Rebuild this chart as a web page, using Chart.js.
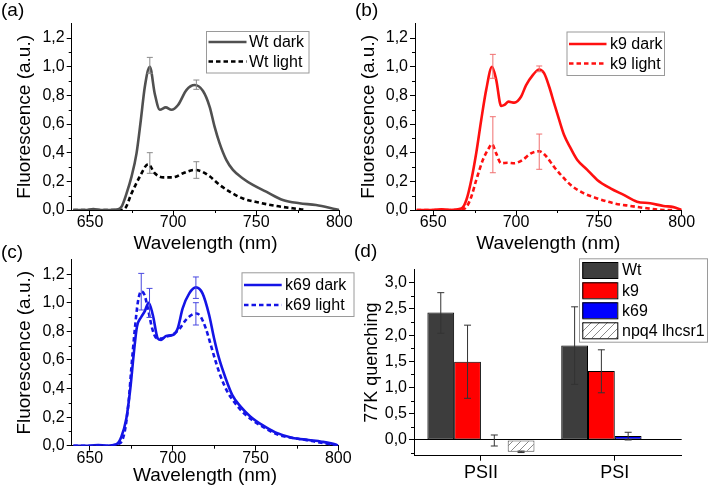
<!DOCTYPE html>
<html><head><meta charset="utf-8">
<script src="https://cdn.jsdelivr.net/npm/chart.js@4.4.1/dist/chart.umd.min.js"></script>
<style>
html,body{margin:0;padding:0;background:#fff;}
body{width:709px;height:491px;position:relative;overflow:hidden;}
canvas{position:absolute;}
</style></head><body>
<canvas id="cA" width="380" height="258" style="left:0px;top:0px"></canvas>
<canvas id="cB" width="355" height="258" style="left:354px;top:0px"></canvas>
<canvas id="cC" width="380" height="251" style="left:0px;top:240px"></canvas>
<canvas id="cD" width="355" height="251" style="left:354px;top:240px"></canvas>
<script>
// ---------- DATA ----------
const specXTicks = [650, 700, 750, 800];
const specXMinor = [675, 725, 775];
const specYTicks = [0, 0.2, 0.4, 0.6, 0.8, 1.0, 1.2];
const specYMinor = [0.1, 0.3, 0.5, 0.7, 0.9, 1.1];

// (a) Wt
const wtDarkNm  = [640, 648, 652, 656, 662, 667, 669, 672, 675, 678, 680.6, 683, 686, 689, 692, 695.6, 699, 703, 708, 713, 718, 722, 725, 728, 732, 736, 742, 748, 756, 766, 776, 786, 798, 800];
const wtDarkVal = [0, 0, 0.006, 0, 0, 0.005, 0.023, 0.116, 0.233, 0.395, 0.628, 0.86, 1.0, 0.81, 0.70, 0.716, 0.70, 0.733, 0.837, 0.872, 0.83, 0.72, 0.58, 0.465, 0.35, 0.28, 0.22, 0.175, 0.128, 0.07, 0.047, 0.035, 0.005, 0];
const wtLightNm  = [640, 660, 668, 671, 675, 680, 685, 689, 694, 700, 706, 713, 717, 722, 728, 734, 742, 752, 762, 772, 780];
const wtLightVal = [0, 0, 0, 0.01, 0.116, 0.233, 0.32, 0.256, 0.228, 0.228, 0.256, 0.28, 0.27, 0.235, 0.175, 0.128, 0.08, 0.051, 0.028, 0.012, 0];
const wtErrNm = [686, 714];
const wtDarkLo = [0.954, 0.842], wtDarkHi = [1.065, 0.907];
const wtLightLo = [0.256, 0.221], wtLightHi = [0.40, 0.337];

// (b) k9
const k9DarkNm  = [640, 650, 655, 660, 667, 670, 673, 676, 679, 682, 685.5, 688, 691, 693, 695.5, 699, 703, 706, 710, 714, 717, 720, 723, 726, 729, 733, 737, 743, 749, 757, 765, 773, 781, 789, 795, 800];
const k9DarkVal = [0, 0, 0.005, 0, 0.01, 0.07, 0.21, 0.40, 0.63, 0.84, 1.0, 0.91, 0.726, 0.733, 0.756, 0.749, 0.79, 0.87, 0.94, 0.98, 0.953, 0.86, 0.744, 0.63, 0.523, 0.43, 0.349, 0.28, 0.21, 0.151, 0.105, 0.058, 0.047, 0.028, 0.02, 0];
const k9LightNm  = [640, 660, 667, 670, 673, 676, 680, 683, 685.5, 688, 691, 695, 699, 704, 709, 714, 718, 723, 728, 733, 741, 749, 759, 769, 779, 789, 795];
const k9LightVal = [0, 0, 0.005, 0.02, 0.093, 0.21, 0.35, 0.42, 0.46, 0.395, 0.326, 0.33, 0.326, 0.35, 0.395, 0.41, 0.377, 0.30, 0.233, 0.174, 0.116, 0.081, 0.047, 0.028, 0.012, 0, 0];
const k9ErrNm = [686, 714];
const k9DarkLo = [0.919, 0.965], k9DarkHi = [1.086, 1.005];
const k9LightLo = [0.26, 0.284], k9LightHi = [0.651, 0.53];

// (c) k69
const k69DarkNm  = [640, 650, 655, 660, 666, 669, 672, 674.4, 676.4, 678.4, 681, 683, 685.5, 688, 691, 693, 696, 700, 703, 706, 710, 714, 718, 722, 725, 728, 732, 736, 741, 747, 754, 762, 772, 782, 790, 799, 800];
const k69DarkVal = [0, 0, 0.005, 0, 0.01, 0.063, 0.19, 0.40, 0.634, 0.832, 0.90, 0.937, 1.0, 0.914, 0.75, 0.739, 0.767, 0.774, 0.82, 0.96, 1.065, 1.107, 1.065, 0.914, 0.75, 0.61, 0.47, 0.354, 0.273, 0.203, 0.145, 0.093, 0.056, 0.04, 0.028, 0.005, 0];
const k69LightNm  = [640, 660, 668, 671, 673.4, 675, 677, 679, 681, 683, 685, 687.6, 690, 693, 696, 700, 704, 708, 712, 714.5, 717, 720, 723, 726, 729, 733, 737, 742, 748, 756, 764, 774, 784, 792, 799];
const k69LightVal = [0, 0, 0.016, 0.098, 0.31, 0.54, 0.80, 1.007, 1.08, 1.054, 0.96, 0.82, 0.755, 0.75, 0.762, 0.778, 0.816, 0.88, 0.918, 0.925, 0.90, 0.82, 0.704, 0.587, 0.483, 0.378, 0.308, 0.238, 0.18, 0.121, 0.075, 0.051, 0.033, 0.016, 0.005];
const k69DarkErrNm = [686, 714], k69DarkLo = [0.897, 1.03], k69DarkHi = [1.10, 1.18];
const k69LightErrNm = [681, 714], k69LightLo = [0.949, 0.844], k69LightHi = [1.205, 1.0];

// (d) 77K quenching
const groups = ['PSII', 'PSI'];
const qWt  = [2.43, 1.80],  qWtLo  = [2.035, 1.06],  qWtHi  = [2.81, 2.54];
const qK9  = [1.49, 1.316], qK9Lo  = [0.795, 0.90],  qK9Hi  = [2.19, 1.72];
const qK69 = [-0.01, 0.076], qK69Lo = [-0.115, 0.0], qK69Hi = [0.095, 0.147];
const qNpq = [-0.225, -0.01], qNpqLo = [-0.24, -0.01], qNpqHi = [-0.212, -0.01];
const qYTicks = [0, 0.5, 1.0, 1.5, 2.0, 2.5, 3.0];
const qYMinor = [-0.25, 0.25, 0.75, 1.25, 1.75, 2.25, 2.75];

// ---------- RENDER ----------
const FONT = '"Liberation Sans", Arial, Helvetica, sans-serif';
Chart.defaults.color = '#000';
Chart.defaults.font.family = FONT;
const comma = v => Number(v).toFixed(1).replace('.', ',');
const pts = (xs, ys) => xs.map((x, i) => ({x: x, y: ys[i]}));

// hatch pattern
const pc = document.createElement('canvas'); pc.width = 8; pc.height = 8;
const pctx = pc.getContext('2d');
pctx.fillStyle = '#fff'; pctx.fillRect(0, 0, 8, 8);
pctx.strokeStyle = '#8a8a8a'; pctx.lineWidth = 1;
pctx.beginPath(); pctx.moveTo(0, 8); pctx.lineTo(8, 0); pctx.moveTo(-2, 2); pctx.lineTo(2, -2); pctx.moveTo(6, 10); pctx.lineTo(10, 6); pctx.stroke();
const hatch = pctx.createPattern(pc, 'repeat');

const overlayCfg = {};
const overlay = {
  id: 'overlay',
  afterDatasetsDraw(chart) {
    const o = overlayCfg[chart.canvas.id]; if (!o) return;
    const ctx = chart.ctx, ca = chart.chartArea, sx = chart.scales.x, sy = chart.scales.y;
    ctx.save();
    ctx.strokeStyle = '#000'; ctx.lineWidth = 1;
    ctx.beginPath();
    (o.minorX || []).forEach(v => { const x = Math.round(sx.getPixelForValue(v)) + 0.5; ctx.moveTo(x, ca.bottom); ctx.lineTo(x, ca.bottom + 3); });
    (o.minorY || []).forEach(v => { const y = Math.round(sy.getPixelForValue(v)) + 0.5; ctx.moveTo(ca.left - 3, y); ctx.lineTo(ca.left, y); });
    ctx.stroke();
    (o.errors || []).forEach(e => {
      ctx.strokeStyle = e.color; ctx.lineWidth = 1;
      e.lo.forEach((lo, i) => {
        let x;
        if (e.meta != null) x = chart.getDatasetMeta(e.meta).data[i].x;
        else x = sx.getPixelForValue(e.nm[i]);
        const y1 = sy.getPixelForValue(lo), y2 = sy.getPixelForValue(e.hi[i]);
        if (Math.abs(y1 - y2) < 0.5) return;
        ctx.beginPath();
        ctx.moveTo(x, y1); ctx.lineTo(x, y2);
        ctx.moveTo(x - e.cap, y1); ctx.lineTo(x + e.cap, y1);
        ctx.moveTo(x - e.cap, y2); ctx.lineTo(x + e.cap, y2);
        ctx.stroke();
      });
    });
    ctx.restore();
  },
  afterDraw(chart) {
    const o = overlayCfg[chart.canvas.id]; if (!o) return;
    const ctx = chart.ctx;
    ctx.save();
    ctx.fillStyle = '#000'; ctx.textBaseline = 'middle'; ctx.textAlign = 'left';
    ctx.font = '19px ' + FONT;
    ctx.fillText(o.panel[0], o.panel[1], o.panel[2]);
    const L = o.legend;
    if (L) {
      ctx.strokeStyle = '#9a9a9a'; ctx.lineWidth = 1;
      ctx.strokeRect(L.box[0] + 0.5, L.box[1] + 0.5, L.box[2], L.box[3]);
      ctx.font = '16px ' + FONT;
      L.items.forEach(it => {
        if (it.swatch) {
          ctx.fillStyle = it.fill; ctx.fillRect(L.sx[0], it.y - 8, L.sx[1] - L.sx[0], 16);
          ctx.strokeStyle = '#000'; ctx.lineWidth = 1; ctx.strokeRect(L.sx[0] + 0.5, it.y - 8 + 0.5, L.sx[1] - L.sx[0], 16);
        } else {
          ctx.strokeStyle = it.color; ctx.lineWidth = 2.5; ctx.setLineDash(it.dash || []);
          ctx.beginPath(); ctx.moveTo(L.sx[0], it.y); ctx.lineTo(L.sx[1], it.y); ctx.stroke();
          ctx.setLineDash([]);
        }
        ctx.fillStyle = '#000'; ctx.fillText(it.text, L.tx, it.y + 1);
      });
    }
    ctx.restore();
  }
};

function spectrum(id, c) {
  overlayCfg[id] = {
    panel: c.panel, minorX: specXMinor, minorY: specYMinor, errors: c.errors, legend: c.legend
  };
  return new Chart(document.getElementById(id), {
    type: 'line',
    data: { datasets: [
      { label: c.names[0], data: pts(c.dark[0], c.dark[1]), borderColor: c.color, borderWidth: 2.6, pointRadius: 0, cubicInterpolationMode: 'monotone', fill: false },
      { label: c.names[1], data: pts(c.light[0], c.light[1]), borderColor: c.lightColor, borderWidth: 2.6, borderDash: [4.5, 3], pointRadius: 0, cubicInterpolationMode: 'monotone', fill: false }
    ]},
    options: {
      responsive: false, animation: false, events: [],
      layout: { padding: c.pad },
      plugins: { legend: { display: false }, tooltip: { enabled: false } },
      scales: {
        x: {
          type: 'linear', min: 639, max: 800,
          afterBuildTicks: s => { s.ticks = specXTicks.map(v => ({value: v})); },
          afterFit: s => { s.height = c.hx; },
          grid: { drawOnChartArea: false, drawTicks: true, tickLength: 5, tickColor: '#000', tickWidth: 1 },
          border: { display: true, color: '#000', width: 1 },
          ticks: { color: '#000', font: { family: FONT, size: 16, lineHeight: 1 }, padding: 0, maxRotation: 0, autoSkip: false, callback: v => String(v) },
          title: { display: true, text: 'Wavelength (nm)', color: '#000', font: { family: FONT, size: 19 }, padding: { top: 0, bottom: 0 } }
        },
        y: {
          type: 'linear', min: 0, max: 1.3,
          afterBuildTicks: s => { s.ticks = specYTicks.map(v => ({value: v})); },
          afterFit: s => { s.width = c.yw; },
          grid: { drawOnChartArea: false, drawTicks: true, tickLength: 5, tickColor: '#000', tickWidth: 1 },
          border: { display: true, color: '#000', width: 1 },
          ticks: { color: '#000', font: { family: FONT, size: 16 }, padding: 2, autoSkip: false, callback: v => comma(v) },
          title: { display: true, text: 'Fluorescence (a.u.)', color: '#000', font: { family: FONT, size: 19 }, padding: { top: c.ytp, bottom: 0 } }
        }
      }
    },
    plugins: [overlay]
  });
}

// (a)
spectrum('cA', {
  names: ['Wt dark', 'Wt light'], color: '#505050', lightColor: '#000',
  dark: [wtDarkNm, wtDarkVal], light: [wtLightNm, wtLightVal],
  pad: { left: 0, top: 23.7, right: 40.7, bottom: 2.6 }, hx: 45.4, yw: 71.7, ytp: 13,
  panel: ['(a)', 1, 11],
  errors: [
    { nm: wtErrNm, lo: wtDarkLo, hi: wtDarkHi, color: '#8a8a8a', cap: 3 },
    { nm: wtErrNm, lo: wtLightLo, hi: wtLightHi, color: '#8a8a8a', cap: 3 }
  ],
  legend: { box: [206, 31, 102.5, 41.5], sx: [208.5, 246.5], tx: 249,
    items: [ { text: 'Wt dark', color: '#505050', y: 42 }, { text: 'Wt light', color: '#000', dash: [4.5, 3], y: 61.5 } ] }
});

// (b)
spectrum('cB', {
  names: ['k9 dark', 'k9 light'], color: '#ff1010', lightColor: '#ff1010',
  dark: [k9DarkNm, k9DarkVal], light: [k9LightNm, k9LightVal],
  pad: { left: 0, top: 23.7, right: 27.3, bottom: 2.6 }, hx: 45.4, yw: 61, ytp: 3,
  panel: ['(b)', 1, 11],
  errors: [
    { nm: k9ErrNm, lo: k9DarkLo, hi: k9DarkHi, color: '#f07070', cap: 3 },
    { nm: k9ErrNm, lo: k9LightLo, hi: k9LightHi, color: '#f07070', cap: 3 }
  ],
  legend: { box: [212.5, 31.5, 97.5, 43.5], sx: [215, 252.5], tx: 256,
    items: [ { text: 'k9 dark', color: '#ff1010', y: 44 }, { text: 'k9 light', color: '#ff1010', dash: [4.5, 3], y: 63.5 } ] }
});

// (c)
spectrum('cC', {
  names: ['k69 dark', 'k69 light'], color: '#1414e6', lightColor: '#1414e6',
  dark: [k69DarkNm, k69DarkVal], light: [k69LightNm, k69LightVal],
  pad: { left: 0, top: 19.8, right: 41.7, bottom: 3.6 }, hx: 41.7, yw: 71.7, ytp: 13,
  panel: ['(c)', 1, 13],
  errors: [
    { nm: k69DarkErrNm, lo: k69DarkLo, hi: k69DarkHi, color: '#4848e0', cap: 3 },
    { nm: k69LightErrNm, lo: k69LightLo, hi: k69LightHi, color: '#4848e0', cap: 3 }
  ],
  legend: { box: [241.5, 32.3, 112, 43.7], sx: [244, 281.7], tx: 285,
    items: [ { text: 'k69 dark', color: '#1414e6', y: 45 }, { text: 'k69 light', color: '#1414e6', dash: [4.5, 3], y: 65 } ] }
});

// (d)
overlayCfg['cD'] = {
  panel: ['(d)', 0, 12], minorY: qYMinor,
  errors: [
    { meta: 0, lo: qWtLo, hi: qWtHi, color: '#333', cap: 3.5 },
    { meta: 1, lo: qK9Lo, hi: qK9Hi, color: '#333', cap: 3.5 },
    { meta: 2, lo: qK69Lo, hi: qK69Hi, color: '#333', cap: 3.5 },
    { meta: 3, lo: qNpqLo, hi: qNpqHi, color: '#333', cap: 3.5 }
  ],
  legend: { box: [225, 18.3, 128, 83.4], sx: [228.3, 263.3], tx: 268,
    items: [
      { swatch: true, fill: '#3d3d3d', text: 'Wt', y: 30 },
      { swatch: true, fill: '#ff0000', text: 'k9', y: 50.3 },
      { swatch: true, fill: '#0000ff', text: 'k69', y: 70.3 },
      { swatch: true, fill: hatch, text: 'npq4 lhcsr1', y: 90.3 }
    ] }
};
new Chart(document.getElementById('cD'), {
  type: 'bar',
  data: { labels: groups, datasets: [
    { label: 'Wt', data: qWt, backgroundColor: '#3d3d3d', borderColor: '#000', borderWidth: 1, borderSkipped: false },
    { label: 'k9', data: qK9, backgroundColor: '#ff0000', borderColor: '#000', borderWidth: 1, borderSkipped: false },
    { label: 'k69', data: qK69, backgroundColor: '#0000ff', borderColor: '#000', borderWidth: 1, borderSkipped: false },
    { label: 'npq4 lhcsr1', data: qNpq, backgroundColor: hatch, borderColor: '#444', borderWidth: 1, borderSkipped: false }
  ]},
  options: {
    responsive: false, animation: false, events: [],
    layout: { padding: { left: 0, top: 29.6, right: 27.3, bottom: 5.3 } },
    datasets: { bar: { categoryPercentage: 0.8, barPercentage: 1.0 } },
    plugins: { legend: { display: false }, tooltip: { enabled: false } },
    scales: {
      x: {
        offset: true,
        afterFit: s => { s.height = 30; },
        grid: { offset: false, drawOnChartArea: false, drawTicks: true, tickLength: 5, tickColor: '#000' },
        border: { display: true, color: '#000', width: 1 },
        ticks: { color: '#000', font: { family: FONT, size: 18, lineHeight: 1 }, padding: 3 }
      },
      y: {
        type: 'linear', min: -0.3, max: 3.25,
        afterBuildTicks: s => { s.ticks = qYTicks.map(v => ({value: v})); },
        afterFit: s => { s.width = 60; },
        grid: { drawOnChartArea: true, drawTicks: true, tickLength: 5, tickColor: '#000', lineWidth: 1,
                color: c => (c.tick && c.tick.value === 0) ? '#000' : 'rgba(0,0,0,0)' },
        border: { display: true, color: '#000', width: 1 },
        ticks: { color: '#000', font: { family: FONT, size: 16 }, padding: 2, autoSkip: false, callback: v => comma(v) },
        title: { display: true, text: '77K quenching', color: '#000', font: { family: FONT, size: 18 }, padding: { top: 7, bottom: 0 } }
      }
    }
  },
  plugins: [overlay]
});
</script>
</body></html>
